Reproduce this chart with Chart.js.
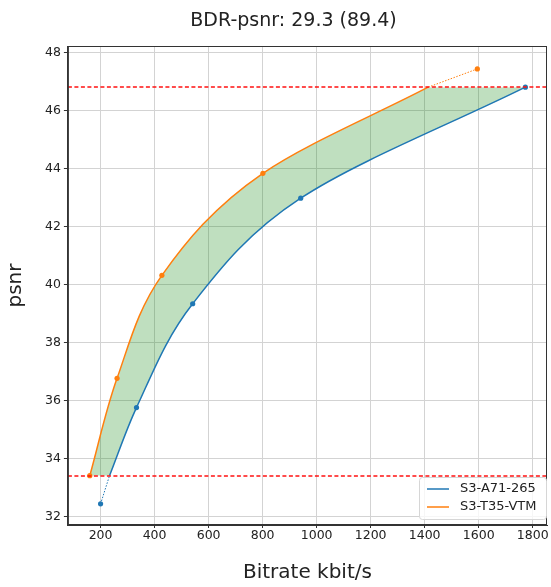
<!DOCTYPE html>
<html>
<head>
<meta charset="utf-8">
<script src="https://cdn.jsdelivr.net/npm/chart.js@4.4.0/dist/chart.umd.min.js"></script>
<style>
  html, body { margin: 0; padding: 0; background: #fff; }
</style>
</head>
<body>
<canvas id="myChart" width="551" height="587"></canvas>
<script>
"use strict";

const titleText = 'BDR-psnr: 29.3 (89.4)';
const seriesNames = ['S3-A71-265', 'S3-T35-VTM'];
const seriesColors = ['#1f77b4', '#ff7f0e'];

// measured rate/psnr points
const rateA = [200, 333, 541, 941, 1773];
const psnrA = [32.45, 35.77, 39.35, 42.99, 46.82];
const rateB = [160, 261, 427, 801, 1595];
const psnrB = [33.42, 36.78, 40.33, 43.85, 47.45];

// common psnr range, and where each curve meets its edges
const psnrLow = 33.42;
const psnrHigh = 46.82;
const rateAAtLow = 233;
const rateBAtHigh = 1413;

const xMin = 79, xMax = 1853;
const yMin = 31.72, yMax = 48.24;
const xTickValues = [200, 400, 600, 800, 1000, 1200, 1400, 1600, 1800];
const yTickValues = [32, 34, 36, 38, 40, 42, 44, 46, 48];

const toPoints = (xs, ys) => xs.map((x, i) => ({x: x, y: ys[i]}));
const inRange = p => p.y >= psnrLow && p.y <= psnrHigh;

const pointsA = toPoints(rateA, psnrA);
const pointsB = toPoints(rateB, psnrB);

// solid curves only inside the common psnr range
const curveA = [{x: rateAAtLow, y: psnrLow}].concat(pointsA.filter(inRange));
const curveB = pointsB.filter(inRange).concat([{x: rateBAtHigh, y: psnrHigh}]);

// dotted tails outside that range
const tailA = pointsA.filter(p => p.y < psnrLow).concat([{x: rateAAtLow, y: psnrLow}]);
const tailB = [{x: rateBAtHigh, y: psnrHigh}].concat(pointsB.filter(p => p.y > psnrHigh));

// the original figure was wider than the crop, so its title sits right of centre
const titlePlugin = {
  id: 'figTitle',
  afterDraw(chart) {
    const {ctx} = chart;
    ctx.save();
    ctx.font = '19px "DejaVu Sans"';
    ctx.fillStyle = '#222';
    ctx.textAlign = 'center';
    ctx.textBaseline = 'alphabetic';
    ctx.fillText(titleText, 293.5, 26);
    ctx.restore();
  }
};

// red dashed limits, then the frame round the plot
const framePlugin = {
  id: 'frame',
  afterDatasetsDraw(chart) {
    const {ctx, chartArea: a} = chart;
    const yScale = chart.scales.y;
    ctx.save();
    ctx.strokeStyle = '#ff1010';
    ctx.lineWidth = 1.5;
    ctx.setLineDash([4, 2.5]);
    [psnrLow, psnrHigh].forEach(level => {
      const py = Math.round(yScale.getPixelForValue(level));
      ctx.beginPath();
      ctx.moveTo(a.left, py);
      ctx.lineTo(a.right, py);
      ctx.stroke();
    });
    ctx.setLineDash([]);
    ctx.strokeStyle = '#333';
    ctx.lineWidth = 1;
    ctx.strokeRect(a.left + 0.5, a.top + 0.5, a.right - a.left - 1, a.bottom - a.top - 1);
    ctx.restore();
  }
};

// legend in the lower right corner of the plot
const cornerLegend = {
  id: 'cornerLegend',
  afterDraw(chart) {
    const {ctx, chartArea: a} = chart;
    const rowH = 18, w = 127, h = 42;
    const x0 = a.right - w - 1, y0 = a.bottom - h - 6;
    ctx.save();
    ctx.fillStyle = 'rgba(255,255,255,0.8)';
    ctx.strokeStyle = '#d6d6d6';
    ctx.lineWidth = 1;
    ctx.beginPath();
    ctx.roundRect(x0 + 0.5, y0 + 0.5, w, h, 3);
    ctx.fill();
    ctx.stroke();
    ctx.font = '13px "DejaVu Sans"';
    ctx.textBaseline = 'middle';
    seriesNames.forEach((name, i) => {
      const cy = y0 + 12 + i * rowH;
      ctx.strokeStyle = seriesColors[i];
      ctx.lineWidth = 1.5;
      ctx.beginPath();
      ctx.moveTo(x0 + 8, cy);
      ctx.lineTo(x0 + 30, cy);
      ctx.stroke();
      ctx.fillStyle = '#222';
      ctx.fillText(name, x0 + 41, cy);
    });
    ctx.restore();
  }
};

const solidCurve = (label, pts, color, extra) => Object.assign({
  label: label,
  data: pts,
  indexAxis: 'y',
  cubicInterpolationMode: 'monotone',
  borderColor: color,
  borderWidth: 1.5,
  pointRadius: 0,
  fill: false
}, extra);

const dottedTail = (pts, color) => ({
  data: pts,
  borderColor: color,
  borderWidth: 1,
  borderDash: [1.5, 1.5],
  pointRadius: 0,
  fill: false,
  order: 2
});

const markers = (label, pts, color) => ({
  label: label,
  data: pts,
  showLine: false,
  pointRadius: 2.6,
  pointBorderWidth: 0,
  pointBackgroundColor: color,
  borderColor: color,
  order: 1
});

const tickFont = {family: 'DejaVu Sans', size: 12.5};

const ctx = document.getElementById('myChart').getContext('2d');
const chart = new Chart(ctx, {
  type: 'line',
  data: {
    datasets: [
      solidCurve(seriesNames[0], curveA, seriesColors[0], {order: 3}),
      solidCurve(seriesNames[1], curveB, seriesColors[1], {
        order: 4,
        backgroundColor: 'rgba(0,128,0,0.25)',
        fill: {target: 0}
      }),
      dottedTail(tailA, seriesColors[0]),
      dottedTail(tailB, seriesColors[1]),
      markers(seriesNames[0], pointsA, seriesColors[0]),
      markers(seriesNames[1], pointsB, seriesColors[1])
    ]
  },
  options: {
    responsive: false,
    animation: false,
    layout: {padding: {left: 4, right: 1, top: 46, bottom: 2}},
    plugins: {
      legend: {display: false},
      tooltip: {enabled: false},
      title: {display: false}
    },
    scales: {
      x: {
        type: 'linear',
        min: xMin,
        max: xMax,
        afterBuildTicks: axis => { axis.ticks = xTickValues.map(v => ({value: v})); },
        ticks: {
          color: '#222',
          padding: 0,
          maxRotation: 0,
          autoSkip: false,
          font: tickFont,
          callback: v => String(v)
        },
        grid: {color: '#d3d3d3', tickColor: '#333', tickLength: 3},
        border: {color: '#333'},
        title: {
          display: true,
          text: 'Bitrate kbit/s',
          color: '#222',
          font: {family: 'DejaVu Sans', size: 20},
          padding: {top: 18, bottom: 0}
        }
      },
      y: {
        type: 'linear',
        min: yMin,
        max: yMax,
        afterBuildTicks: axis => { axis.ticks = yTickValues.map(v => ({value: v})); },
        ticks: {
          color: '#222',
          padding: 3,
          autoSkip: false,
          font: tickFont,
          callback: v => String(v)
        },
        grid: {color: '#d3d3d3', tickColor: '#333', tickLength: 4},
        border: {color: '#333'},
        title: {
          display: true,
          text: 'psnr',
          color: '#222',
          font: {family: 'DejaVu Sans', size: 20},
          padding: {top: 0, bottom: 14}
        }
      }
    }
  },
  plugins: [titlePlugin, framePlugin, cornerLegend]
});
</script>
</body>
</html>
